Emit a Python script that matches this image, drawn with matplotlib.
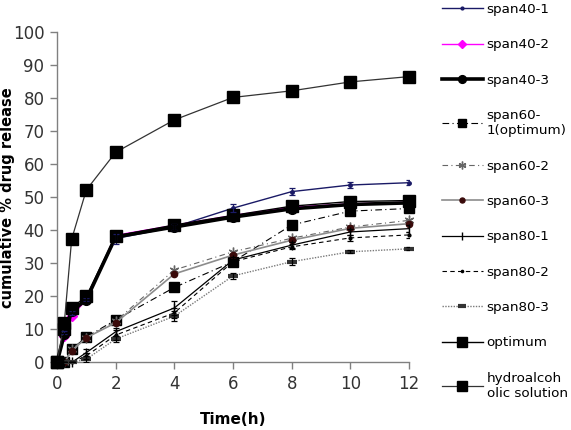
import matplotlib
matplotlib.use("Agg")
import matplotlib.pyplot as plt

time_h = [0, 0.25, 0.5, 1, 2, 4, 6, 8, 10, 12]

span40_1 = [0, 9, 15, 19, 37.5, 41, 46.7, 51.7, 53.7, 54.4]
span40_2 = [0, 8, 14, 19, 38.5, 41.5, 44.5, 47, 48, 48.5]
span40_3 = [0, 8.5, 15.5, 19, 38, 41, 44, 46.5, 47.8, 48.3]
span60_1 = [0, 0, 4, 7.7, 12.9, 22.7, 30.5, 41.6, 45.8, 46.6]
span60_2 = [0, 0, 4, 7.5, 12.5, 28, 33.5, 37.6, 41, 43]
span60_3 = [0, 0, 3.5, 7.5, 12, 26.8, 32.5, 37, 40.6, 42]
span80_1 = [0, 0, 0, 3, 9.3, 16.5, 31, 35.5, 39.5, 40.5]
span80_2 = [0, 0, 0, 2, 8.3, 15, 30.5, 35, 37.7, 38.6]
span80_3 = [0, 0, 0, 1, 7.1, 14, 26.2, 30.5, 33.5, 34.4]
optimum = [0, 10, 16.5, 20, 38.3, 41.6, 44.5, 47.3, 48.7, 49]
hydroalcoholic = [0, 12, 37.3, 52.2, 63.6, 73.4, 80.2, 82.2, 84.9, 86.5]

# standard deviations
span40_1_sd = [0, 0.5, 0.5, 0.5, 1.5, 1.0, 1.2, 1.0, 1.0, 0.8]
span40_3_sd = [0, 0.5, 0.5, 0.8, 1.5, 1.0, 1.0, 0.8, 0.8, 0.8]
span80_1_sd = [0, 0, 0, 1.0, 1.2, 2.0, 1.0, 1.0, 1.0, 1.0]
span80_2_sd = [0, 0, 0, 1.0, 1.5, 1.5, 0.8, 0.8, 0.8, 0.8]
span80_3_sd = [0, 0, 0, 1.0, 1.0, 1.5, 0.8, 1.0, 0.5, 0.5]

legend_labels = ["span40-1", "span40-2", "span40-3", "span60-\n1(optimum)",
                 "span60-2", "span60-3", "span80-1", "span80-2", "span80-3",
                 "optimum", "hydroalcoh\nolic solution"]

fig = plt.figure(figsize=(5.71, 4.30), dpi=100)
ax = fig.add_axes([0.0998, 0.157, 0.6165, 0.7686])

styles = [
    (span40_1, dict(color="#1a1a66", lw=1.0, marker="o", ms=2.5)),
    (span40_2, dict(color="#ff00ff", lw=1.0, marker="D", ms=5)),
    (span40_3, dict(color="black", lw=2.6, marker="o", ms=7)),
    (span60_1, dict(color="black", lw=0.8, ls=(0, (6, 3, 1, 3)), marker="s", ms=7.5)),
    (span60_2, dict(color="#666666", lw=0.8, ls=(0, (5, 3, 1, 3)), marker=(6, 2, 0), ms=7,
                    mec="#666666")),
    (span60_3, dict(color="#8c8c8c", lw=1.2, marker="o", ms=4.5, mfc="#3a0a0a", mec="#3a0a0a")),
    (span80_1, dict(color="black", lw=0.9, marker="|", ms=7)),
    (span80_2, dict(color="black", lw=0.8, ls=(0, (4, 3)), marker="o", ms=2)),
    (span80_3, dict(color="#7a7a7a", lw=1.0, ls=(0, (1, 1)), marker="_", ms=7, mew=3,
                    mec="#333333")),
    (optimum, dict(color="black", lw=1.0, marker="s", ms=8.5)),
    (hydroalcoholic, dict(color="#333333", lw=0.9, marker="s", ms=9, mfc="black", mec="black")),
]

handles = []
for values, kw in styles:
    line, = ax.plot(time_h, values, clip_on=False, zorder=3, **kw)
    handles.append(line)

for values, sd, col in [(span40_1, span40_1_sd, "#1a1a66"), (span40_3, span40_3_sd, "black"),
                        (span80_1, span80_1_sd, "black"), (span80_2, span80_2_sd, "black"),
                        (span80_3, span80_3_sd, "black")]:
    ax.errorbar(time_h, values, yerr=sd, fmt="none", ecolor=col, elinewidth=0.9,
                capsize=2.5, capthick=0.9, zorder=4)

ax.set_xlim(0, 12)
ax.set_ylim(0, 100)
ax.set_xticks(range(0, 13, 2))
ax.set_yticks(range(0, 101, 10))
for side in ("top", "right"):
    ax.spines[side].set_visible(False)
for side in ("left", "bottom"):
    ax.spines[side].set_color("#808080")
    ax.spines[side].set_linewidth(1.0)
ax.tick_params(direction="out", length=5, width=1.0, color="#808080",
               labelsize=12, labelcolor="#333333", pad=4)

ax.set_xlabel("Time(h)", fontsize=11, fontweight="bold", labelpad=14)
ax.set_ylabel("cumulative % drug release", fontsize=10.5, fontweight="bold")
ax.yaxis.set_label_coords(-0.118, 0.5)

fig.legend(handles, legend_labels, loc="upper left", bbox_to_anchor=(0.772, 0.996),
           frameon=False, fontsize=9.7, handlelength=3.0, handletextpad=0.3,
           labelspacing=1.66, borderpad=0.1, borderaxespad=0, numpoints=1,
           markerscale=0.8)

fig.savefig("out.png", dpi=100)
